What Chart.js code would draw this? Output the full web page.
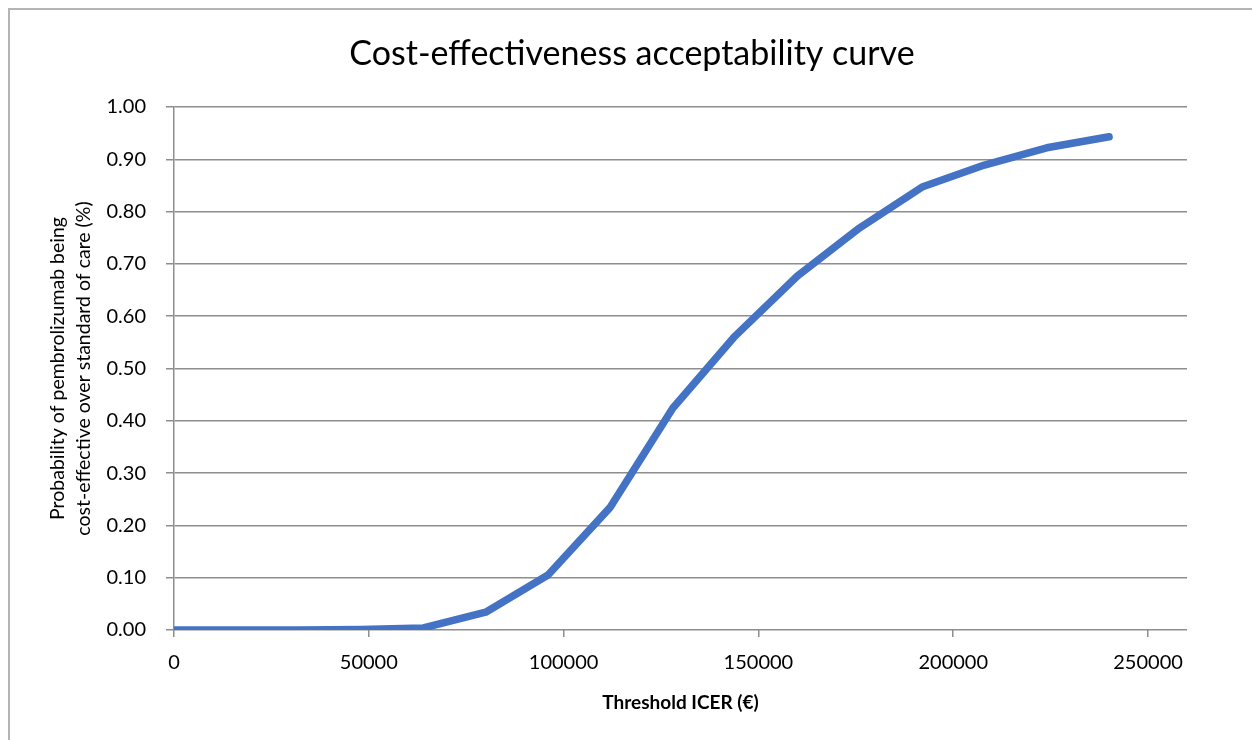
<!DOCTYPE html>
<html>
<head>
<meta charset="utf-8">
<script src="https://cdn.jsdelivr.net/npm/chart.js@4/dist/chart.umd.min.js"></script>
<style>
  html, body { margin: 0; padding: 0; background: #ffffff; overflow: hidden; }
  #wrap { position: relative; width: 1252px; height: 740px; }
  #frame { position: absolute; left: 8px; top: 8px; width: 1300px; height: 800px;
           border: 2px solid #b4b4b4; box-sizing: border-box; }
  #c { position: absolute; left: 0; top: 0; }
</style>
</head>
<body>
<div id="wrap">
  <div id="frame"></div>
  <canvas id="c" width="1252" height="740"></canvas>
</div>
<script>
// Willingness-to-pay thresholds (EUR) and probability that pembrolizumab is cost-effective
const thresholds = [0, 16000, 32000, 48000, 64000, 80000, 96000, 112000, 128000, 144000, 160000, 176000, 192000, 208000, 224000, 240000];
const probability = [0, 0, 0, 0.001, 0.004, 0.034, 0.105, 0.235, 0.424, 0.562, 0.677, 0.769, 0.847, 0.889, 0.922, 0.943];

// Axis tick values
const xTicks = [0, 50000, 100000, 150000, 200000, 250000];
const yTicks = [0, 0.1, 0.2, 0.3, 0.4, 0.5, 0.6, 0.7, 0.8, 0.9, 1.0];

const chartTitle = 'Cost-effectiveness acceptability curve';
const xTitle = 'Threshold ICER (€)';
const yTitle = ['Probability of pembrolizumab being', 'cost-effective over standard of care (%)'];

const FONT = 'Lato, "Open Sans", "DejaVu Sans", sans-serif';
const GRID = '#8e8e8e';

// Chart heading, centred over the whole frame rather than the plot box
const headingPlugin = {
  id: 'heading',
  afterDraw(chart) {
    const ctx = chart.ctx;
    ctx.save();
    ctx.font = 'normal 34px ' + FONT;
    ctx.fillStyle = '#000000';
    ctx.textAlign = 'center';
    ctx.textBaseline = 'middle';
    ctx.fillText(chartTitle, 632, 54);
    ctx.restore();
  }
};

new Chart(document.getElementById('c'), {
  type: 'line',
  data: {
    datasets: [{
      data: thresholds.map((t, i) => ({ x: t, y: probability[i] })),
      borderColor: '#4472C4',
      borderWidth: 7.5,
      borderCapStyle: 'round',
      borderJoinStyle: 'round',
      pointRadius: 0,
      tension: 0,
      fill: false
    }]
  },
  plugins: [headingPlugin],
  options: {
    responsive: false,
    animation: false,
    layout: { padding: { left: 0, right: 65, top: 107, bottom: 0 } },
    plugins: {
      legend: { display: false },
      tooltip: { enabled: false },
      title: { display: false }
    },
    scales: {
      x: {
        type: 'linear',
        min: 0,
        max: 260000,
        afterFit: (s) => { s.height = 110; },
        afterBuildTicks: (s) => { s.ticks = xTicks.map(v => ({ value: v })); },
        border: { display: false },
        grid: { display: true, drawOnChartArea: false, drawTicks: true, tickLength: 7, color: GRID, lineWidth: 1.5 },
        ticks: {
          maxRotation: 0,
          autoSkip: false,
          padding: 14,
          color: '#000000',
          font: { family: FONT, size: 20 },
          callback: (v) => String(v)
        },
        title: {
          display: true,
          text: xTitle,
          color: '#000000',
          font: { family: FONT, size: 19, weight: 'bold' },
          padding: { top: 0, bottom: 26 }
        }
      },
      y: {
        type: 'linear',
        min: 0,
        max: 1,
        afterFit: (s) => { s.width = 174; },
        afterBuildTicks: (s) => { s.ticks = yTicks.map(v => ({ value: v })); },
        border: { display: true, color: GRID, width: 1.5 },
        grid: { color: GRID, lineWidth: 1.5, drawTicks: true, tickLength: 8 },
        ticks: {
          padding: 20,
          autoSkip: false,
          color: '#000000',
          font: { family: FONT, size: 20 },
          callback: (v) => Number(v).toFixed(2)
        },
        title: {
          display: true,
          text: yTitle,
          color: '#000000',
          font: { family: FONT, size: 19.5, lineHeight: '26px' },
          padding: { top: 45, bottom: 0 }
        }
      }
    }
  }
});
</script>
</body>
</html>
